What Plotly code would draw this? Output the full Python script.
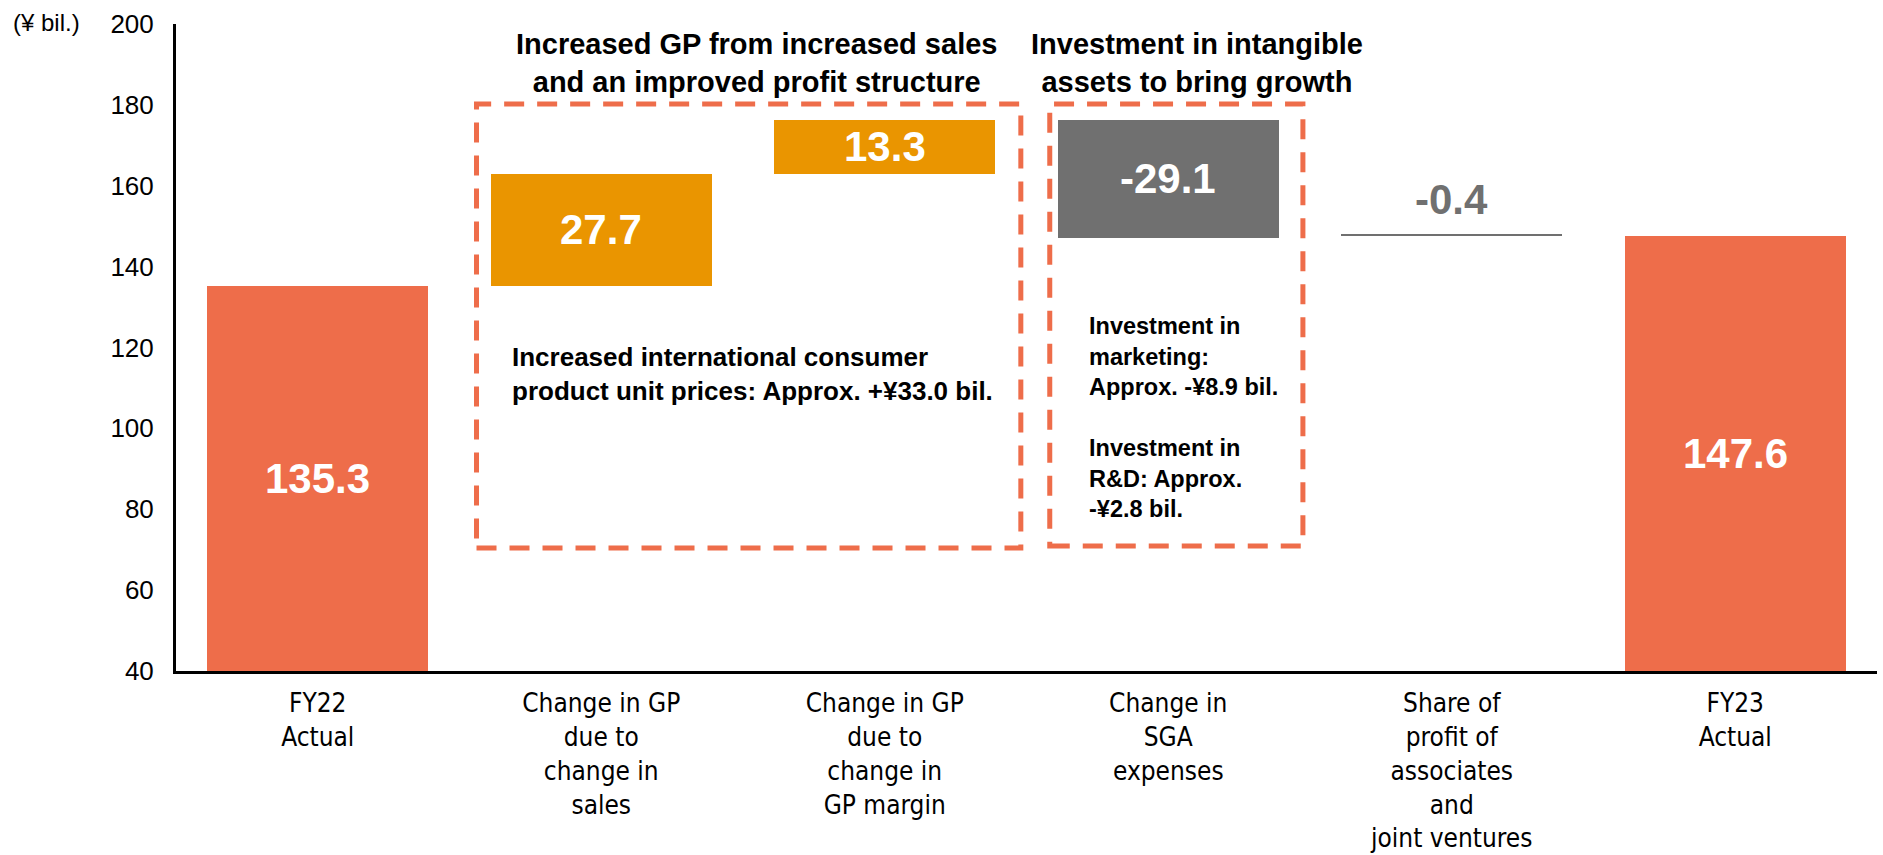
import plotly.graph_objects as go

# ---- data ----
categories = ["FY22<br>Actual",
              "Change in GP<br>due to<br>change in<br>sales",
              "Change in GP<br>due to<br>change in<br>GP margin",
              "Change in<br>SGA<br>expenses",
              "Share of<br>profit of<br>associates<br>and<br>joint ventures",
              "FY23<br>Actual"]
values = [135.3, 27.7, 13.3, -29.1, -0.4, 147.6]
kinds = ["total", "delta", "delta", "delta", "delta", "total"]
value_labels = ["135.3", "27.7", "13.3", "-29.1", "-0.4", "147.6"]
y_ticks = [40, 60, 80, 100, 120, 140, 160, 180, 200]

CORAL = "#EE6D4A"
ORANGE = "#EA9500"
GRAY = "#707070"
colors = [CORAL, ORANGE, ORANGE, GRAY, GRAY, CORAL]

YMIN, YMAX = 40, 200

# waterfall bases: deltas run forward from the first total,
# the delta adjacent to the final total is anchored to that total
bases, heights = [], []
running = values[0]
for i, (v, k) in enumerate(zip(values, kinds)):
    if k == "total":
        bases.append(0)
        heights.append(v)
        running = v
    elif i + 1 < len(values) and kinds[i + 1] == "total":
        bases.append(values[i + 1] - v)
        heights.append(v)
        running = values[i + 1]
    else:
        bases.append(running)
        heights.append(v)
        running += v

x = list(range(len(categories)))

fig = go.Figure()
fig.add_trace(go.Bar(
    x=x, y=heights, base=bases, marker=dict(color=colors, line=dict(width=0)),
    width=0.78, hoverinfo="skip", showlegend=False,
))

FONT = "Arial, Liberation Sans, sans-serif"
annotations = []
for i, (b, h, lab) in enumerate(zip(bases, heights, value_labels)):
    lo, hi = min(b, b + h), max(b, b + h)
    lo = max(lo, YMIN)
    if hi - lo > 5:
        annotations.append(dict(x=i, y=(lo + hi) / 2, text=f"<b>{lab}</b>", showarrow=False,
                                font=dict(family=FONT, size=42, color="white"),
                                xref="x", yref="y", yanchor="middle"))
    else:
        annotations.append(dict(x=i, y=hi + 8.7, text=f"<b>{lab}</b>", showarrow=False,
                                font=dict(family=FONT, size=42, color=GRAY),
                                xref="x", yref="y", yanchor="middle"))

annotations += [
    dict(x=-0.097, y=1.0, xref="paper", yref="paper", text="(¥ bil.)", showarrow=False,
         xanchor="left", yanchor="middle", yshift=2,
         font=dict(family=FONT, size=24, color="black")),
    dict(x=1.548, y=190.3, xref="x", yref="y",
         text="<b>Increased GP from increased sales<br>and an improved profit structure</b>",
         showarrow=False, xanchor="center", yanchor="middle",
         font=dict(family=FONT, size=29, color="black")),
    dict(x=3.101, y=190.3, xref="x", yref="y",
         text="<b>Investment in intangible<br>assets to bring growth</b>",
         showarrow=False, xanchor="center", yanchor="middle",
         font=dict(family=FONT, size=29, color="black")),
    dict(x=0.677, y=113.4, xref="x", yref="y",
         text="<b>Increased international consumer<br>product unit prices: Approx. +¥33.0 bil.</b>",
         showarrow=False, xanchor="left", yanchor="middle", align="left",
         font=dict(family=FONT, size=26, color="black")),
    dict(x=2.713, y=102.7, xref="x", yref="y",
         text="<b>Investment in<br>marketing:<br>Approx. -¥8.9 bil.<br><br>Investment in<br>R&D: Approx.<br>-¥2.8 bil.</b>",
         showarrow=False, xanchor="left", yanchor="middle", align="left",
         font=dict(family=FONT, size=23.5, color="black")),
]

shapes = [
    dict(type="rect", xref="x", yref="y", x0=0.560, x1=2.480, y0=70.4, y1=180.2,
         line=dict(color=CORAL, width=5, dash="20px,13px"), fillcolor="rgba(0,0,0,0)"),
    dict(type="rect", xref="x", yref="y", x0=2.582, x1=3.475, y0=70.9, y1=180.2,
         line=dict(color=CORAL, width=5, dash="20px,13px"), fillcolor="rgba(0,0,0,0)"),
]

fig.update_layout(
    width=1883, height=855,
    margin=dict(l=176, r=6, t=24, b=184),
    paper_bgcolor="white", plot_bgcolor="white",
    annotations=annotations, shapes=shapes,
    bargap=0,
    xaxis=dict(range=[-0.5, 5.5], tickvals=x, ticktext=categories,
               showline=True, linecolor="black", linewidth=3,
               ticks="outside", ticklen=7, tickcolor="rgba(0,0,0,0)",
               showgrid=False, zeroline=False, fixedrange=True, automargin=False,
               tickfont=dict(family="DejaVu Sans Condensed, Arial, sans-serif", size=26, color="black")),
    yaxis=dict(range=[YMIN, YMAX], tickvals=y_ticks,
               showline=True, linecolor="black", linewidth=3,
               ticks="outside", ticklen=14, tickcolor="rgba(0,0,0,0)",
               showgrid=False, zeroline=False, fixedrange=True, automargin=False,
               tickfont=dict(family=FONT, size=26, color="black")),
)

fig.write_html("out.html", config={"displayModeBar": False},
               post_script="document.body.style.margin='0px';document.body.style.overflow='hidden';")
